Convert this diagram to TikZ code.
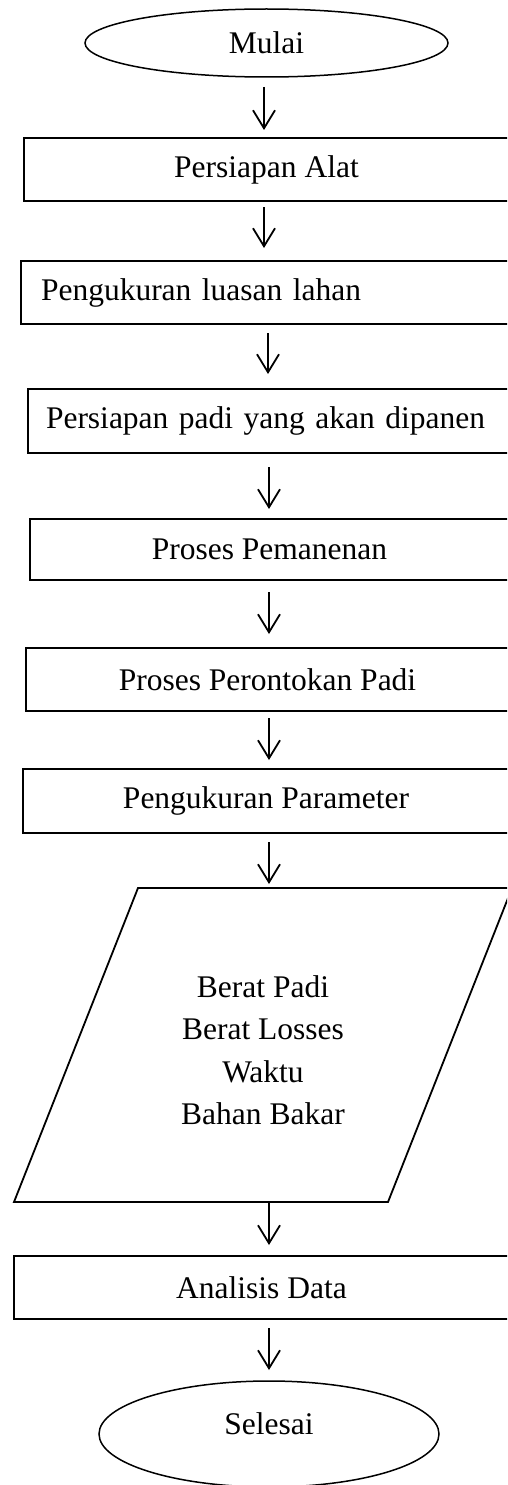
\documentclass[tikz,border=0pt]{standalone}
\usepackage{fontspec}
\setmainfont{Liberation Serif}
\usetikzlibrary{arrows.meta,shapes.geometric}
\begin{document}
\begin{tikzpicture}[x=1pt,y=-1pt,
  every node/.style={font=\fontsize{31.5}{42.5}\selectfont, outer sep=0pt},
  procbox/.style={draw, line width=1.3pt, rectangle, inner sep=0pt},
  term/.style={draw, ellipse, line width=1.5pt, inner sep=0pt},
  arr/.style={line width=1.8pt, -{Straight Barb[length=18pt,width=22pt]}}
]
\useasboundingbox (0,0) rectangle (507,1485);
\begin{scope}
\clip (0,0) rectangle (507,1485);
% columns for the connectors
\coordinate (c1) at (264,0);
\coordinate (c2) at (268,0);
\coordinate (c3) at (269,0);

\node[term, minimum width=363pt, minimum height=68pt] (mulai) at (266.5,43) {Mulai};
\node[procbox, minimum width=485pt, minimum height=63pt] (box1) at (266.5,169.5) {Persiapan Alat};
\node[procbox, minimum width=488pt, minimum height=63pt, text width=448pt, align=left, inner xsep=20pt] (box2) at (265,292.5) {Pengukuran luasan lahan};
\node[procbox, minimum width=481pt, minimum height=64pt, text width=445pt, align=left, inner xsep=18pt] (box3) at (268.5,421) {Persiapan padi yang akan dipanen};
\node[procbox, minimum width=479pt, minimum height=61pt] (box4) at (269.5,549.5) {Proses Pemanenan};
\node[procbox, minimum width=483pt, minimum height=63pt] (box5) at (267.5,679.5) {Proses Perontokan Padi};
\node[procbox, minimum width=486pt, minimum height=64pt] (box6) at (266,801) {Pengukuran Parameter};
\node[minimum width=374pt, minimum height=314pt, inner sep=0pt] (para) at (263,1045) {};
\draw[line width=1.8pt, line join=miter]
  ([xshift=62pt]para.north west) -- ([xshift=62pt]para.north east) --
  ([xshift=-62pt]para.south east) -- ([xshift=-62pt]para.south west) -- cycle;
\node[align=center, inner sep=0pt] (paratxt) at (263,1050) {Berat Padi\\Berat Losses\\Waktu\\Bahan Bakar};
\node[procbox, minimum width=495pt, minimum height=63pt] (box7) at (261.5,1287.5) {Analisis Data};
\node[term, minimum width=340pt, minimum height=106pt] (selesai) at (269,1434) {};
\node[inner sep=0pt] (selesaitxt) at (269,1424) {Selesai};

\draw[arr, shorten <=10pt, shorten >=8pt] (mulai.south -| c1) -- (box1.north -| c1);
\draw[arr, shorten <=6pt, shorten >=13pt] (box1.south -| c1) -- (box2.north -| c1);
\draw[arr, shorten <=9pt, shorten >=15pt] (box2.south -| c2) -- (box3.north -| c2);
\draw[arr, shorten <=14pt, shorten >=10pt] (box3.south -| c3) -- (box4.north -| c3);
\draw[arr, shorten <=12pt, shorten >=14pt] (box4.south -| c3) -- (box5.north -| c3);
\draw[arr, shorten <=7pt, shorten >=9pt] (box5.south -| c3) -- (box6.north -| c3);
\draw[arr, shorten <=9pt, shorten >=4pt] (box6.south -| c3) -- (para.north -| c3);
\draw[arr, shorten >=11pt] (para.south -| c3) -- (box7.north -| c3);
\draw[arr, shorten <=9pt, shorten >=11pt] (box7.south -| c3) -- (selesai.north -| c3);
\end{scope}
\end{tikzpicture}
\end{document}
